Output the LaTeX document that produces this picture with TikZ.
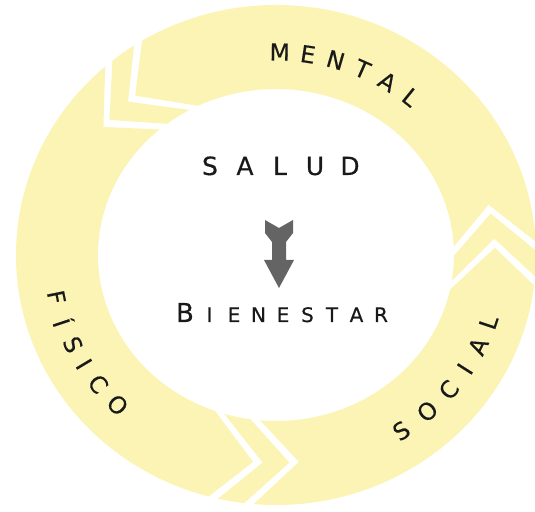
\documentclass[tikz,border=0pt]{standalone}
\usepackage{fontspec}
\setmainfont{DejaVu Sans}
\newfontfamily\ringfont[FakeBold=0.4]{DejaVu Sans}
\definecolor{ringyellow}{RGB}{252,244,180}
\definecolor{arrowgray}{RGB}{100,100,100}
\definecolor{inkblack}{RGB}{25,25,25}

\begin{document}
\begin{tikzpicture}[x=1pt, y=1pt,
    ring/.style={fill=ringyellow},
    letter/.style={inner sep=0pt, text=inkblack, font=\ringfont\fontsize{25}{25}\selectfont},
    arcletter/.style={letter, font=\ringfont\fontsize{23.5}{24}\selectfont},
    bigletter/.style={letter, font=\ringfont\fontsize{26}{26}\selectfont},
    smallletter/.style={letter, font=\ringfont\fontsize{20}{20}\selectfont}
  ]
  \fill[white] (0,0) rectangle (535,511);
  \useasboundingbox (0,0) rectangle (535,511);

  \begin{scope}[shift={(276,256)}]
    % arc arrows and the thin chevrons between them
    % (start junction/shift, end junction/shift)
    \foreach \ja/\ga/\jb/\gb in {2/12/130/0, 130/12/264/0, 264/12/362/0,
                                 2/2.5/2/9.5, 130/2.5/130/9.5, 264/2.5/264/9.5}{
      \pgfmathsetmacro\mA{\ja+\ga}
      \pgfmathsetmacro\oA{\ja+0.84*\ga-9}
      \pgfmathsetmacro\iA{\ja+1.24*\ga-14}
      \pgfmathsetmacro\mB{\jb+\gb}
      \pgfmathsetmacro\oB{\jb+0.84*\gb-9}
      \pgfmathsetmacro\iB{\jb+1.24*\gb-14}
      \fill[ring] (\mA:219 and 208) -- (\oA:260 and 250)
        arc[start angle=\oA, end angle=\oB, x radius=260, y radius=250]
        -- (\mB:219 and 208) -- (\iB:178 and 166)
        arc[start angle=\iB, end angle=\iA, x radius=178, y radius=166]
        -- cycle;
    }

    % words on the ring
    \foreach \l [count=\i from 0] in {M,E,N,T,A,L}{
      \pgfmathsetmacro\t{89-7.6*\i}
      \node[arcletter, rotate=\t-90] (m\i) at (\t:214 and 203) {\l};
    }
    \foreach \t/\l [count=\i] in {191.5/F, 198.5/Í, 205/S, 211/I, 217.5/C, 225/O}
      \node[arcletter, rotate=\t+90] (f\i) at (\t:224 and 212) {\l};
    \foreach \t/\l [count=\i] in {-56/S, -47.5/O, -39.5/C, -32.5/I, -25.5/A, -18.5/L}
      \node[arcletter, rotate=\t+90] (c\i) at (\t:224 and 212) {\l};
  \end{scope}

  % centre
  \foreach \l [count=\i from 0] in {S,A,L,U,D}
    \node[letter, anchor=base] (s\i) at (210+35*\i, 336) {\l};
  \node[bigletter, anchor=base] (b0) at (185, 189) {B};
  \foreach \l [count=\i] in {I,E,N,E,S,T,A,R}
    \node[smallletter, anchor=base] (b\i) at (185+24.5*\i, 189) {\l};

  \coordinate (arrtop) at (265, 291);
  \fill[arrowgray] (arrtop) -- ++(0,-13) -- ++(7,-9) -- ++(0,-18) -- ++(-8,0)
    -- ++(15,-28) -- ++(15,28) -- ++(-8,0) -- ++(0,18) -- ++(7,9)
    -- ++(0,13) -- ++(-14,-8) -- cycle;
\end{tikzpicture}
\end{document}
